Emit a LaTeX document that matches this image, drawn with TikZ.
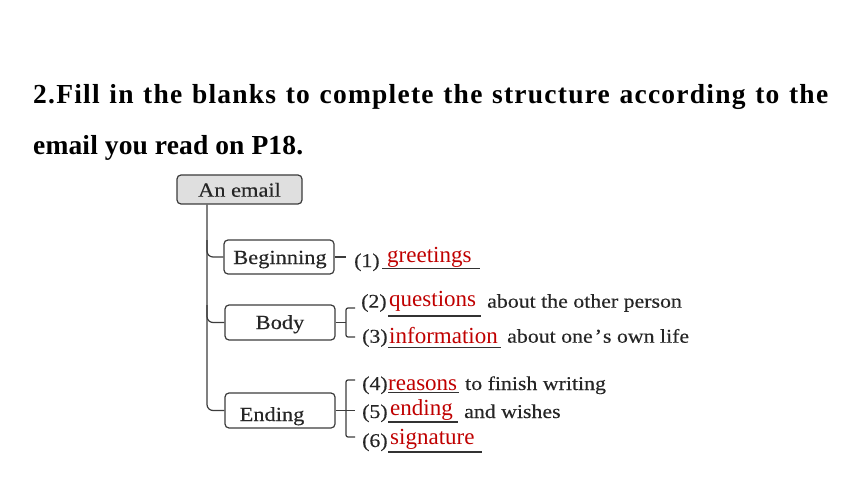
\documentclass[tikz,border=0pt]{standalone}
\usepackage{fontspec}
\setmainfont{Liberation Serif}
\newfontfamily\boxfont[FakeStretch=1.12,FakeBold=0.3]{Liberation Serif}
\newfontfamily\itemfont[FakeStretch=1.12,FakeBold=0.3]{Liberation Serif}
\newfontfamily\titlefonta[LetterSpace=4.5]{Liberation Serif}
\newfontfamily\titlefontb[LetterSpace=0.5]{Liberation Serif}
\definecolor{ansred}{RGB}{192,0,0}
\definecolor{linegray}{RGB}{60,60,60}
\definecolor{ulgray}{RGB}{50,50,50}
\definecolor{rootfill}{RGB}{223,223,223}
\begin{document}
\begin{tikzpicture}[x=1pt,y=-1pt,
  box/.style={draw=linegray, line width=1.2pt, rounded corners=4pt, minimum width=110pt, minimum height=34pt, inner sep=0pt},
  conn/.style={draw=linegray, line width=1.2pt},
  lbl/.style={anchor=base, inner sep=0pt, text=black!85, font=\boxfont\fontsize{20}{24}\selectfont},
  item/.style={anchor=base west, inner sep=0pt, text=black!85, font=\itemfont\fontsize{19.5}{23}\selectfont},
  ans/.style={anchor=base west, inner sep=0pt, text=ansred, font=\fontsize{23}{27}\selectfont},
  uline/.style={draw=ulgray, line width=1.1pt},
  titletext/.style={anchor=base west, inner sep=0pt}]
\useasboundingbox (0,0) rectangle (860,484);
\fill[white] (0,0) rectangle (860,484);

% title
\node[titletext, font=\titlefonta\bfseries\fontsize{27.5}{32}\selectfont] (t1) at (33,104) {\makebox[795pt][s]{2.Fill in the blanks to complete the structure according to the}};
\node[titletext, font=\titlefontb\bfseries\fontsize{27.5}{32}\selectfont] (t2) at (33,155) {email you read on P18.};

% boxes
\node[box, fill=rootfill, minimum width=125pt, minimum height=29pt] (root) at (239.5,189.5) {};
\node[lbl] (rootl) at (239.5,196.7) {An email};
\node[box, minimum height=34pt] (beg) at (279,257) {};
\node[lbl] (begl) at (280,264) {Beginning};
\node[box, minimum height=35pt] (body) at (280,322.5) {};
\node[lbl] (bodyl) at (280,329) {Body};
\node[box, minimum height=35pt] (end) at (280,410.5) {};
\node[lbl] (endl) at (272,421) {Ending};

% trunk and branches
\coordinate (tr) at (207,0);
\coordinate (bt) at (207,240);
\coordinate (bdt) at (207,305);
\draw[conn, rounded corners=6pt] (root.south -| tr) |- (end.west);
\draw[conn, rounded corners=6pt] (bt) |- (beg.west);
\draw[conn, rounded corners=6pt] (bdt) |- (body.west);

% beginning tick
\coordinate (b1) at (346,257);
\draw[conn] (beg.east) -- (b1);

% body bracket
\coordinate (bk2) at (346,322.5);
\coordinate (b2top) at (355,308);
\coordinate (b2bot) at (355,337);
\draw[conn] (body.east) -- (bk2);
\draw[conn, rounded corners=2pt] (b2top) -| (bk2) |- (b2bot);

% ending bracket
\coordinate (bk5) at (346,410.5);
\coordinate (b5) at (355,410.5);
\coordinate (b4) at (355,380);
\coordinate (b6) at (355,437);
\draw[conn] (end.east) -- (b5);
\draw[conn, rounded corners=2pt] (b4) -| (bk5) |- (b6);

% (1)
\node[item] (i1) at (354,267) {(1)};
\draw[uline] (382,268.3) -- (480,268.3);
\node[ans] (a1) at (387,262) {greetings};

% (2)
\node[item] (i2) at (361,307.7) {(2)};
\draw[uline] (388,316) -- (481,316);
\node[ans] (a2) at (389,306.7) {questions};
\node[item] (r2) at (487,307.7) {about the other person};

% (3)
\node[item] (i3) at (362,342.7) {(3)};
\draw[uline] (388,347.5) -- (501,347.5);
\node[ans] (a3) at (389,343) {information};
\node[item] (r3) at (507,342.7) {about one\hspace{2pt}’\hspace{1pt}s own life};

% (4)
\node[item] (i4) at (362,390) {(4)};
\draw[uline] (388,392.3) -- (459,392.3);
\node[ans] (a4) at (388,390) {reasons};
\node[item] (r4) at (465,390) {to finish writing};

% (5)
\node[item] (i5) at (362,418) {(5)};
\draw[uline] (388,422) -- (458,422);
\node[ans] (a5) at (390,415) {ending};
\node[item] (r5) at (464,418) {and wishes};

% (6)
\node[item] (i6) at (362,447) {(6)};
\draw[uline] (388,452) -- (482,452);
\node[ans] (a6) at (390,444) {signature};
\end{tikzpicture}
\end{document}
